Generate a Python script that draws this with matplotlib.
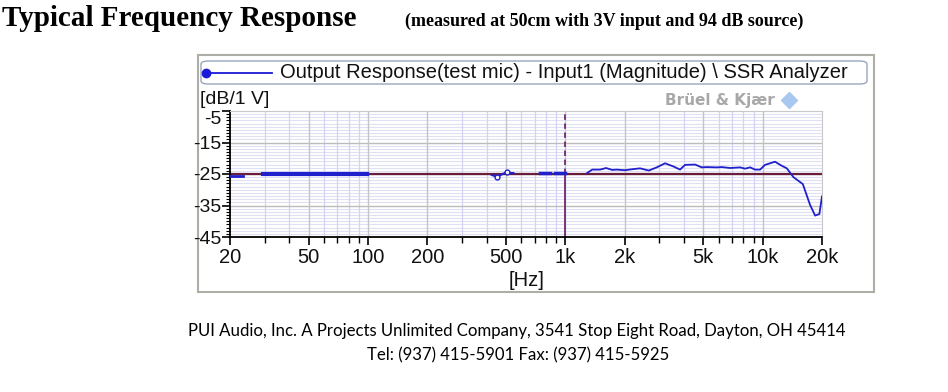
import numpy as np
import matplotlib.pyplot as plt
from matplotlib.patches import Rectangle, FancyBboxPatch
from matplotlib.lines import Line2D
from matplotlib.ticker import FixedLocator, NullFormatter

# measured response, pieces between the gaps of the analyzer trace
low_freq = [20, 21.5, 23.2]
low_db = [-25.6, -25.6, -25.6]

bass_freq = [29.5, 40, 50, 60, 70, 80, 90, 98.6]
bass_db = [-24.9, -24.9, -24.9, -24.9, -24.9, -24.9, -24.9, -24.9]

mid_freq = [424, 450, 475, 505, 525, 546]
mid_db = [-25.3, -25.9, -25.2, -24.4, -24.7, -24.7]

upper_freq_1 = [745, 838]
upper_db_1 = [-24.7, -24.7]
upper_freq_2 = [888, 998]
upper_db_2 = [-24.7, -24.7]

high_freq = [1290, 1370, 1500, 1610, 1730, 1824, 2007, 2172, 2394, 2650, 2908, 3204,
             3530, 3818, 4046, 4548, 4920, 5212, 5860, 6210, 6840, 7690, 8150, 8646,
             9160, 9712, 10296, 11560, 12512, 13268, 14332, 15990, 17400, 18456,
             19400, 20000]
high_db = [-24.7, -23.6, -23.6, -23.1, -23.7, -23.6, -23.8, -23.5, -23.2, -23.9, -22.9, -21.6,
           -22.6, -23.6, -22.1, -22.0, -22.9, -22.8, -22.9, -22.8, -23.1, -22.9, -23.3, -22.9,
           -23.6, -23.6, -22.1, -21.1, -22.4, -23.2, -26.0, -28.2, -34.8, -38.2,
           -37.7, -32.1]

ref_level = -25
cursor_freq = 1000

major_x = [20, 50, 100, 200, 500, 1000, 2000, 5000, 10000, 20000]
major_x_labels = ['20', '50', '100', '200', '500', '1k', '2k', '5k', '10k', '20k']
minor_x = [30, 40, 60, 70, 80, 90, 300, 400, 600, 700, 800, 900,
           3000, 4000, 6000, 7000, 8000, 9000]
y_ticks = [-45, -35, -25, -15, -5]

W, H = 948, 392
fig = plt.figure(figsize=(W / 100, H / 100), dpi=100)
fig.patch.set_facecolor('white')

def fx(x):
    return x / W

def fy(y):
    return 1 - y / H

# analyzer panel frame
fig.patches.append(Rectangle((fx(198), fy(292)), fx(874) - fx(198), fy(55) - fy(292),
                             transform=fig.transFigure, facecolor='white',
                             edgecolor='#aeaea6', lw=1.5, zorder=-2))
# legend box
fig.patches.append(FancyBboxPatch((fx(201), fy(84)), fx(867) - fx(201), fy(61) - fy(84),
                                  boxstyle='round,pad=0,rounding_size=0.008',
                                  transform=fig.transFigure, facecolor='white',
                                  edgecolor='#9aa6bc', lw=1.0, zorder=-1))
fig.lines.append(Line2D([fx(206), fx(272)], [fy(73), fy(73)], transform=fig.transFigure,
                        color='#1a1ad8', lw=1.3, zorder=2))
fig.lines.append(Line2D([fx(206)], [fy(73)], transform=fig.transFigure, color='#1a1ad8',
                        marker='o', ms=6, zorder=2))
fig.text(fx(280), fy(73), 'Output Response(test mic) - Input1 (Magnitude) \\ SSR Analyzer',
         fontsize=14.5, family='Liberation Sans', va='center', ha='left', color='#111111')
fig.text(fx(200), fy(99), '[dB/1 V]', fontsize=14, family='Liberation Sans',
         va='center', ha='left', color='#111111')
fig.text(fx(775), fy(100), 'Brüel & Kjær', fontsize=11, family='DejaVu Sans',
         fontweight='bold', va='center', ha='right', color='#a8a8a8')
fig.lines.append(Line2D([fx(789)], [fy(100)], transform=fig.transFigure, color='#a9c8f0',
                        marker='D', ms=8, zorder=2))

ax = fig.add_axes([fx(230), fy(237), fx(822) - fx(230), fy(111) - fy(237)], zorder=5)
ax.set_xscale('log')
ax.set_xlim(20, 20000)
ax.set_ylim(-45, -5)

# grids
for v in np.arange(-45, -4, 1):
    ax.axhline(v, color='#e0e0f4', lw=0.8, zorder=0)
for f in minor_x:
    ax.axvline(f, color='#d4d4f2', lw=0.9, zorder=0)
for v in [-35, -25, -15]:
    ax.axhline(v, color='#bdbdbd', lw=1.0, zorder=0.5)
for f in major_x[1:-1]:
    ax.axvline(f, color='#c4c4c4', lw=1.0, zorder=0.5)

# reference level and cursor
ax.axhline(ref_level, color='#6a1e3c', lw=1.6, zorder=2)
ax.plot([cursor_freq, cursor_freq], [ref_level, -5], color='#6e2a6e', lw=1.3,
        ls=(0, (3, 2)), zorder=2)
ax.plot([cursor_freq, cursor_freq], [-45, ref_level], color='#6e2a6e', lw=1.3, zorder=2)

blue = '#2020cc'
ax.plot(low_freq, low_db, color=blue, lw=2.0, zorder=3)
ax.plot(bass_freq, bass_db, color=blue, lw=3.0, zorder=3)
ax.plot(mid_freq, mid_db, color=blue, lw=1.5, zorder=3, marker='o', ms=3.5,
        mfc='white', markevery=[1, 3])
ax.plot(upper_freq_1, upper_db_1, color=blue, lw=2.5, zorder=3)
ax.plot(upper_freq_2, upper_db_2, color=blue, lw=2.5, zorder=3)
ax.plot(high_freq, high_db, color=blue, lw=1.3, zorder=3)

ax.xaxis.set_major_locator(FixedLocator(major_x))
ax.set_xticklabels(major_x_labels)
ax.xaxis.set_minor_locator(FixedLocator(minor_x))
ax.xaxis.set_minor_formatter(NullFormatter())
ax.set_yticks(y_ticks)
ax.set_yticklabels([str(v) for v in y_ticks])
ax.yaxis.set_minor_locator(FixedLocator(np.arange(-45, -4, 1)))
ax.tick_params(axis='x', which='major', length=6, width=1.2, labelsize=14.5, pad=2)
ax.tick_params(axis='x', which='minor', length=4, width=1.0)
ax.tick_params(axis='y', which='major', length=6, width=1.2, labelsize=14, pad=0)
ax.tick_params(axis='y', which='minor', length=3, width=0.8)
for lab in ax.get_xticklabels() + ax.get_yticklabels():
    lab.set_family('Liberation Sans')
    lab.set_color('#111111')
ax.get_yticklabels()[-1].set_va('top')

ax.spines['left'].set_color('black')
ax.spines['bottom'].set_color('black')
ax.spines['left'].set_linewidth(1.3)
ax.spines['bottom'].set_linewidth(1.3)
ax.spines['top'].set_color('#c8c8c8')
ax.spines['right'].set_color('#c8c8c8')

fig.text(fx(527), fy(281), '[Hz]', fontsize=14.5, family='Liberation Sans',
         ha='center', va='center', color='#111111')

# page header and footer
fig.text(fx(2), fy(26), 'Typical Frequency Response', fontsize=21, fontweight='bold',
         family='Liberation Serif', ha='left', va='baseline')
fig.text(fx(405), fy(26), '(measured at 50cm with 3V input and 94 dB source)', fontsize=13,
         fontweight='bold', family='Liberation Serif', ha='left', va='baseline')
fig.text(fx(517), fy(331), 'PUI Audio, Inc. A Projects Unlimited Company, 3541 Stop Eight Road, Dayton, OH 45414',
         fontsize=12.1, family='Lato', ha='center', va='center')
fig.text(fx(518), fy(355), 'Tel: (937) 415-5901 Fax: (937) 415-5925',
         fontsize=12.1, family='Lato', ha='center', va='center')

fig.savefig('out.png', dpi=100)
